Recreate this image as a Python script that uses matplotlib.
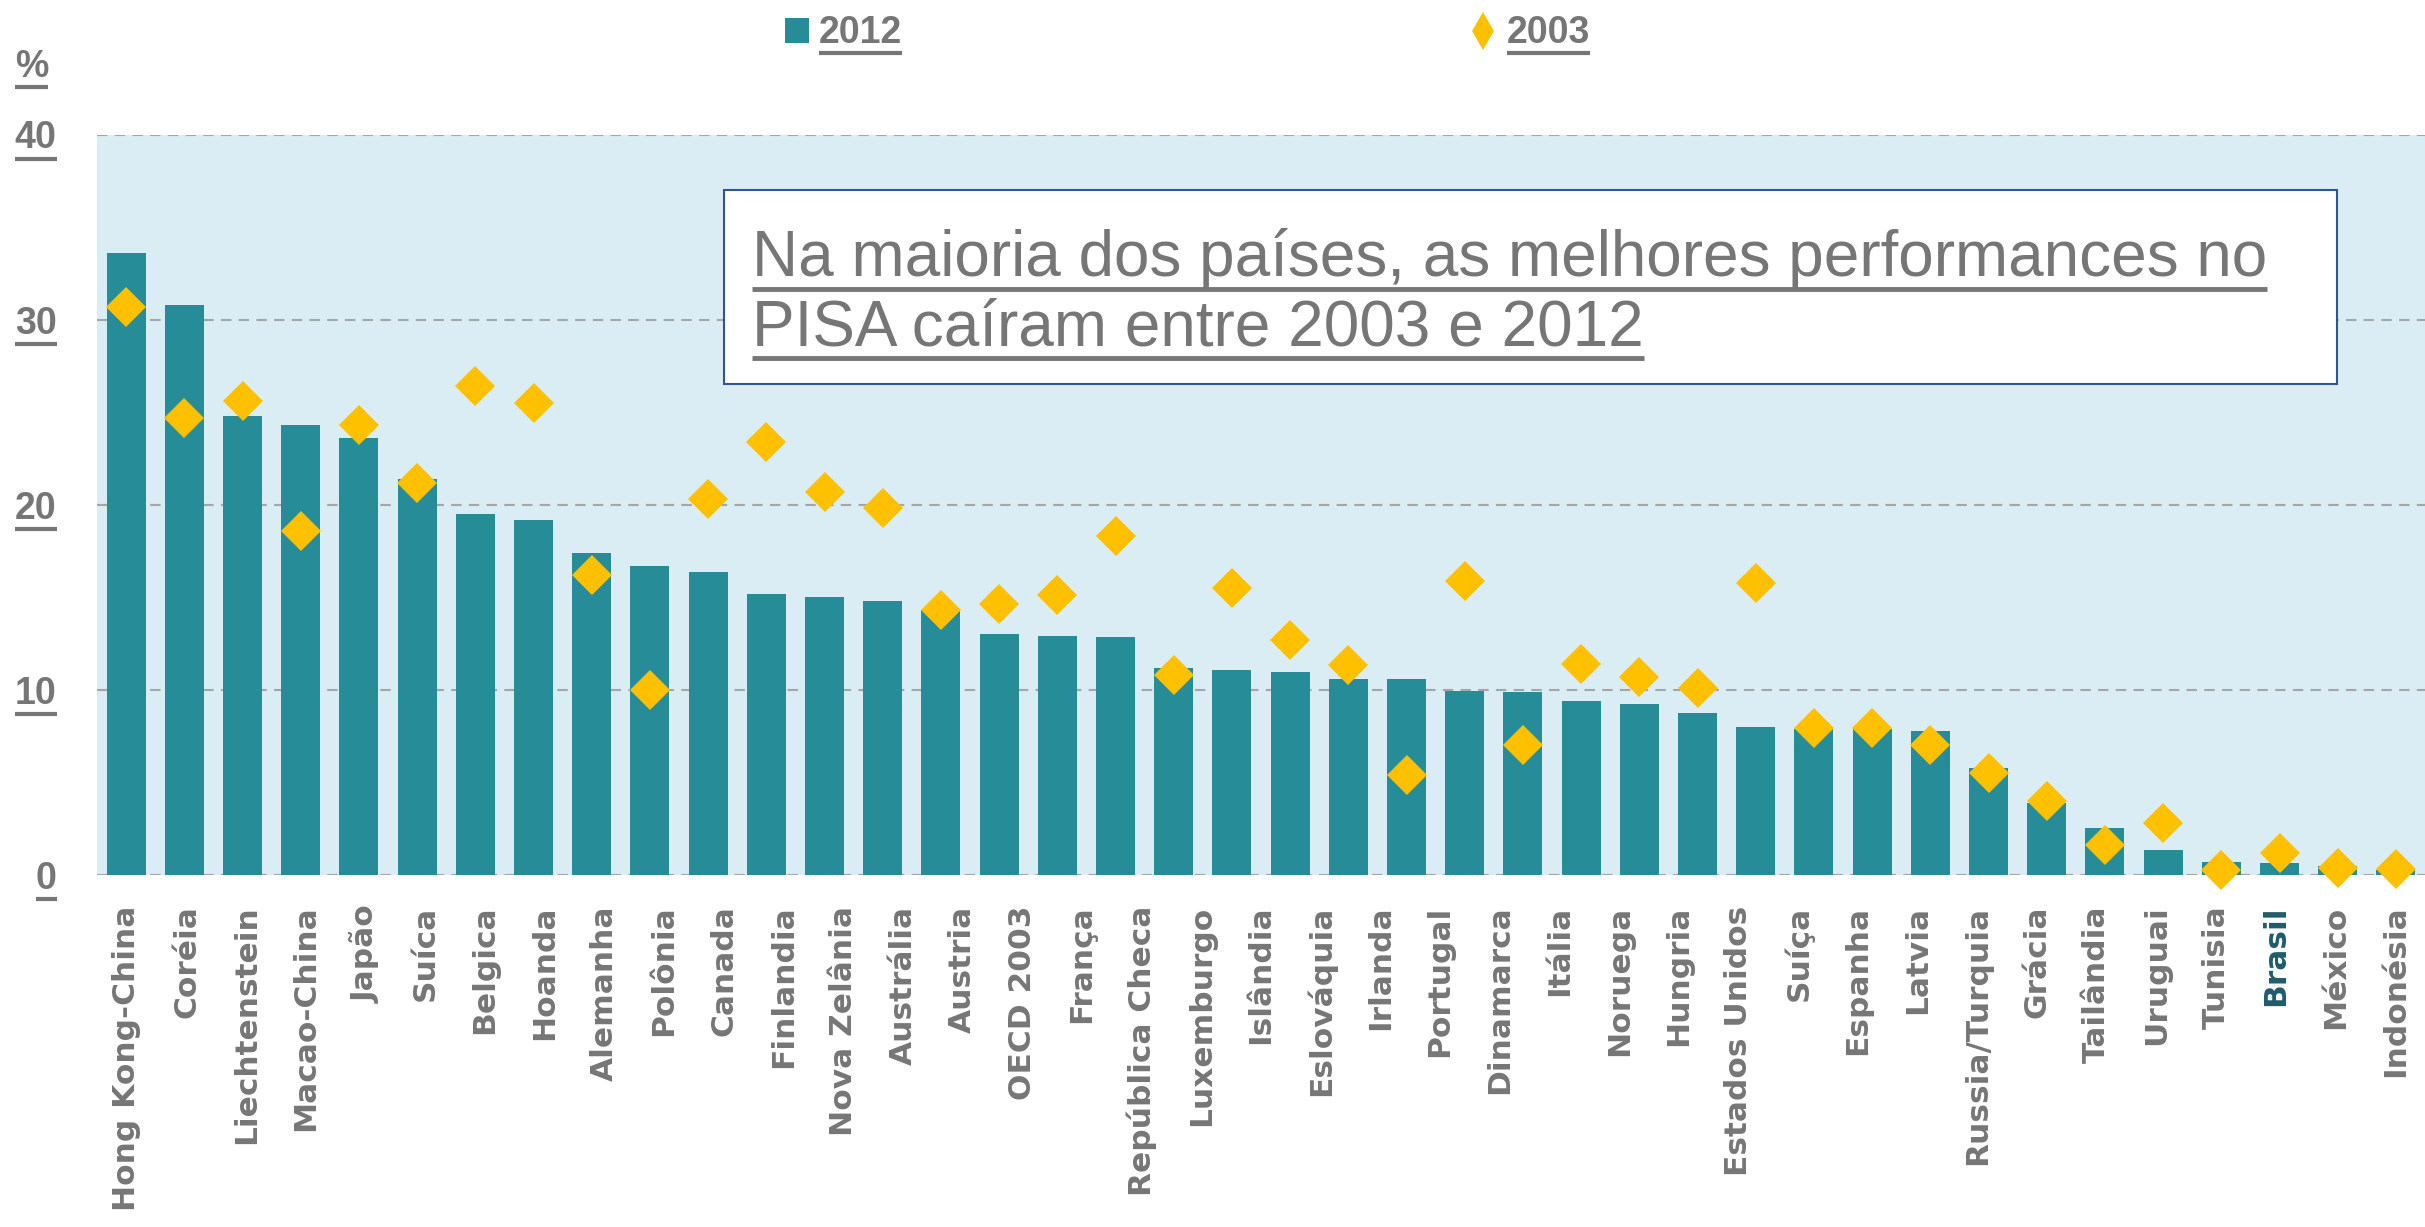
import matplotlib
matplotlib.use("Agg")
import matplotlib.pyplot as plt
from matplotlib.lines import Line2D
from matplotlib.patches import Rectangle
import numpy as np

# 2012 bars and 2003 diamonds (% of top performers), 40 bars in the source
vals_2012 = [33.6, 30.8, 24.8, 24.3, 23.6, 21.4, 19.5, 19.2, 17.4, 16.7,
             16.35, 15.2, 15.0, 14.8, 14.3, 13.0, 12.9, 12.85, 11.2, 11.1,
             10.95, 10.6, 10.6, 9.95, 9.9, 9.4, 9.25, 8.75, 8.0, 7.9,
             7.9, 7.8, 5.8, 3.9, 2.55, 1.35, 0.7, 0.65, 0.5, 0.25]
vals_2003 = [30.7, 24.7, 25.6, 18.6, 24.3, 21.2, 26.4, 25.5, 16.2, 10.0,
             20.3, 23.4, 20.7, 19.8, 14.3, 14.65, 15.1, 18.3, 10.8, 15.5,
             12.7, 11.35, 5.4, 15.9, 7.0, 11.4, 10.7, 10.1, 15.8, 7.95,
             7.95, 7.0, 5.5, 4.0, 1.6, 2.8, 0.25, 1.2, 0.4, 0.3]

# the axis labels (39 of them, spread over the whole axis)
countries = ["Hong Kong-China", "Coréia", "Liechtenstein", "Macao-China", "Japão",
             "Suíca", "Belgica", "Hoanda", "Alemanha", "Polônia", "Canada",
             "Finlandia", "Nova Zelânia", "Austrália", "Austria", "OECD 2003",
             "França", "República Checa", "Luxemburgo", "Islândia", "Eslováquia",
             "Irlanda", "Portugal", "Dinamarca", "Itália", "Noruega", "Hungria",
             "Estados Unidos", "Suíça", "Espanha", "Latvia", "Russia/Turquia",
             "Grácia", "Tailândia", "Uruguai", "Tunisia", "Brasil", "México",
             "Indonésia"]
highlight = "Brasil"

y_ticks = [0, 10, 20, 30, 40]
title_lines = ["Na maioria dos países, as melhores performances no",
               "PISA caíram entre 2003 e 2012"]

TEAL = "#268C97"
GOLD = "#FFC000"
BG = "#DAEDF4"
GREY = "#767676"
GRID = "#A6A6A6"
NARROW = ["Liberation Sans Narrow", "Liberation Sans", "DejaVu Sans"]

W, H = 2425, 1227
fig = plt.figure(figsize=(W / 100, H / 100), dpi=100)
ax = fig.add_axes([97 / W, 1 - 875 / H, 1 - 97 / W, (875 - 134.5) / H])
ax.set_facecolor(BG)

x = np.arange(len(vals_2012))
ax.bar(x, vals_2012, width=0.67, color=TEAL, zorder=2)
ax.plot(x, vals_2003, linestyle="none", marker="D", markersize=20,
        color=GOLD, markeredgewidth=0, zorder=3, clip_on=False)

ax.set_xlim(-0.5, len(x) - 0.5)
ax.set_ylim(0, 40)
for sp in ax.spines.values():
    sp.set_visible(False)

for v in y_ticks:
    ax.axhline(v, color=GRID, lw=1.5, linestyle=(0, (5, 3.5)), zorder=1)

ax.set_yticks(y_ticks)
ax.set_yticklabels([str(v) for v in y_ticks], fontsize=27, fontweight="bold",
                   color=GREY, family=NARROW)
ax.tick_params(axis="y", length=0, pad=29)

# labels spread evenly over the axis (one fewer label than bars)
n_lab = len(countries)
lab_pos = -0.5 + (np.arange(n_lab) + 0.5) * len(x) / n_lab
ax.set_xticks(lab_pos)
ax.set_xticklabels(countries, rotation=90, fontsize=22.5, fontweight="bold",
                   color=GREY, family="DejaVu Sans")
ax.tick_params(axis="x", length=0, pad=22)
for t in ax.get_xticklabels():
    if t.get_text() == highlight:
        t.set_color("#1F5C6B")

# title box
box = Rectangle((724 / W, 1 - 384 / H), (2337 - 724) / W, (384 - 190) / H,
                transform=fig.transFigure, facecolor="white",
                edgecolor="#2F5597", lw=1.5, zorder=5)
fig.add_artist(box)
title_texts = []
for i, line in enumerate(title_lines):
    t = fig.text(752 / W, 1 - (276 + 69 * i) / H, line, fontsize=46,
                 color=GREY, family=NARROW, va="baseline", ha="left", zorder=6)
    title_texts.append(t)

# legend drawn by hand
fig.add_artist(Rectangle((785 / W, 1 - 43 / H), 24 / W, 25 / H,
                         transform=fig.transFigure, facecolor=TEAL, lw=0))
fig.add_artist(Line2D([1483 / W], [1 - 31 / H], transform=fig.transFigure,
                      marker="d", markersize=19, color=GOLD, markeredgewidth=0))
leg_texts = [
    fig.text(819 / W, 1 - 43 / H, "2012", fontsize=27, fontweight="bold",
             color=GREY, family=NARROW, va="baseline"),
    fig.text(1507 / W, 1 - 43 / H, "2003", fontsize=27, fontweight="bold",
             color=GREY, family=NARROW, va="baseline"),
]
pct = fig.text(15 / W, 1 - 77 / H, "%", fontsize=27, fontweight="bold",
               color=GREY, family=NARROW, va="baseline")


def underline(txt, lw, gap, zorder=7):
    r = fig.canvas.get_renderer()
    bb = txt.get_window_extent(renderer=r)
    inv = fig.transFigure.inverted()
    (x0, y0), (x1, _) = inv.transform([(bb.x0, bb.y0 - gap), (bb.x1, bb.y0)])
    fig.add_artist(Line2D([x0, x1], [y0, y0], transform=fig.transFigure,
                          color=GREY, lw=lw, solid_capstyle="butt", zorder=zorder))


fig.canvas.draw()
for t in ax.get_yticklabels():
    underline(t, 3, 2)
for t in leg_texts + [pct]:
    underline(t, 3, 2)
for t in title_texts:
    underline(t, 3.5, 0)

fig.savefig("out.png", dpi=100)
